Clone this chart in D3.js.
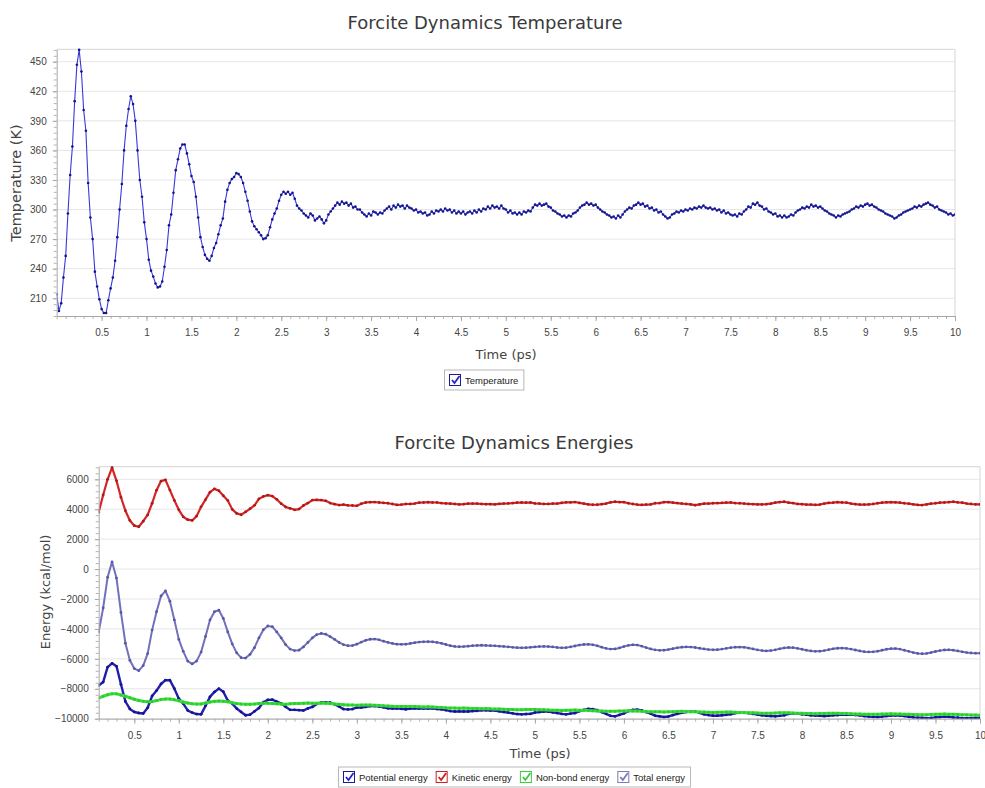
<!DOCTYPE html>
<html lang="en">
<head>
<meta charset="UTF-8">
<title>Forcite Dynamics</title>
<script src="https://cdn.jsdelivr.net/npm/d3@7/dist/d3.min.js"></script>
<style>
    body { margin: 0; background: #fff; }
    svg { display: block; }
</style>
</head>
<body>
<svg id="chart" width="985" height="788"></svg>
<script>
    /* global d3 */

    // time axis ticks (ps)
    var timeTicks = [0.5, 1, 1.5, 2, 2.5, 3, 3.5, 4, 4.5, 5, 5.5, 6, 6.5, 7, 7.5, 8, 8.5, 9, 9.5, 10];
    var tempTicks = [210, 240, 270, 300, 330, 360, 390, 420, 450];
    var energyTicks = [-10000, -8000, -6000, -4000, -2000, 0, 2000, 4000, 6000];

    // temperature (K), sampled every 0.025 ps from 0
    var tempStart = 0, tempStep = 0.025;
    var temperature = [
        214,197,205,231,253,296,335,364,410,447, 462,440,401,380,327,292,270,237,222,209,
        199,195,195,208,220,231,248,272,300,326, 360,385,402,415,407,390,360,330,313,287,
        270,249,238,232,225,221,222,227,242,259, 284,295,317,340,351,362,366,366,357,346,
        334,328,313,292,272,262,254,250,248,253, 261,266,275,284,291,308,320,327,331,333,
        337,336,333,327,318,309,298,288,283,280, 277,274,270,271,274,282,290,296,301,309,
        315,318,316,318,315,317,311,304,301,299, 296,294,292,296,294,289,291,293,290,286,
        289,295,298,301,304,307,305,308,306,307, 304,306,302,303,300,300,297,295,293,296,
        294,298,297,295,297,296,299,301,303,300, 304,302,305,303,304,301,304,302,301,299,
        300,297,298,296,297,294,295,298,296,299, 298,300,298,301,299,300,297,299,296,298,
        296,298,295,297,298,296,299,297,300,298, 301,300,303,301,304,302,303,301,304,301,
        300,297,299,296,297,295,297,295,298,297, 299,298,302,305,304,306,304,305,306,303,
        302,299,298,296,295,293,294,292,294,293, 296,297,299,302,304,305,307,305,306,304,
        305,302,300,298,297,295,294,292,293,291, 294,292,295,298,300,302,301,304,305,307,
        305,306,303,304,301,302,299,300,297,298, 295,293,291,292,295,296,298,297,299,298,
        300,299,301,300,302,301,303,302,304,302, 301,302,300,301,299,300,297,299,296,297,
        295,294,295,293,296,295,298,300,303,302, 306,305,307,304,303,300,301,298,297,295,
        296,293,294,292,294,292,293,295,294,297, 299,300,302,301,303,302,305,303,304,302,
        303,301,299,298,296,295,294,292,294,293, 295,296,297,298,300,301,303,302,304,303,
        305,306,304,305,303,302,300,299,298,296, 295,294,293,291,292,294,295,297,298,299,
        300,301,303,302,304,303,305,306,307,305, 304,302,303,300,299,298,297,295,296,294,
        295
    ];

    // energies (kcal/mol), sampled every 0.05 ps from 0.1
    var energyStart = 0.1, energyStep = 0.05;
    var potentialEnergy = [
        -7780,-7550,-6550,-6300,-6500,-7700,-8850,-9350,-9550,-9620,-9650,-9270,-8480,-8120,-7680,-7420,-7430,-7990,
        -8660,-8990,-9450,-9590,-9690,-9710,-9140,-8540,-8210,-7990,-8200,-8790,-8990,-9320,-9550,-9770,-9730,-9510,-9290,-8900,
        -8740,-8730,-8860,-8970,-9200,-9410,-9410,-9430,-9450,-9310,-9210,-9010,-8910,-8910,-8930,-9040,-9180,-9360,-9380,-9360,
        -9250,-9250,-9210,-9160,-9160,-9180,-9240,-9300,-9320,-9310,-9340,-9370,-9320,-9300,-9320,-9310,-9320,-9310,-9350,-9370,
        -9430,-9490,-9520,-9510,-9520,-9520,-9490,-9480,-9440,-9440,-9460,-9450,-9510,-9550,-9590,-9640,-9690,-9710,-9690,-9680,
        -9590,-9560,-9520,-9530,-9570,-9620,-9680,-9710,-9660,-9620,-9500,-9410,-9350,-9360,-9430,-9560,-9680,-9810,-9840,-9750,
        -9650,-9500,-9410,-9390,-9440,-9560,-9660,-9800,-9840,-9890,-9850,-9760,-9670,-9600,-9550,-9530,-9510,-9610,-9710,-9760,
        -9800,-9800,-9770,-9740,-9700,-9630,-9610,-9610,-9630,-9680,-9720,-9770,-9810,-9820,-9840,-9810,-9770,-9680,-9660,-9650,
        -9700,-9730,-9780,-9790,-9800,-9830,-9810,-9770,-9760,-9730,-9740,-9730,-9750,-9780,-9830,-9860,-9880,-9890,-9860,-9820,
        -9790,-9770,-9790,-9820,-9870,-9910,-9930,-9940,-9960,-9950,-9910,-9890,-9860,-9870,-9920,-9930,-9970,-9960,-9960,-9950,
        -9940
    ];
    var kineticEnergy = [
        3800,4950,6000,6780,5900,4800,3900,3250,2900,2830,3200,3620,4400,5270,5880,5960,5280,4590,
        3960,3490,3300,3250,3540,4160,4640,5140,5360,5240,4900,4590,3990,3720,3630,3820,4030,4260,4690,4850,
        4940,4880,4660,4370,4150,4060,3960,4010,4250,4410,4610,4630,4610,4560,4410,4340,4280,4310,4260,4250,
        4230,4370,4450,4470,4480,4450,4420,4400,4350,4290,4310,4350,4350,4380,4440,4450,4470,4450,4450,4410,
        4390,4370,4350,4320,4340,4370,4370,4380,4350,4340,4340,4320,4360,4380,4390,4410,4440,4450,4440,4450,
        4390,4380,4350,4350,4370,4380,4420,4460,4460,4480,4420,4370,4320,4300,4300,4340,4380,4460,4500,4480,
        4470,4400,4350,4310,4290,4310,4320,4400,4410,4470,4470,4440,4410,4380,4350,4320,4270,4320,4370,4380,
        4400,4410,4420,4440,4450,4410,4400,4380,4350,4340,4320,4320,4340,4370,4440,4480,4500,4440,4410,4350,
        4340,4310,4310,4290,4310,4380,4420,4440,4470,4450,4440,4380,4340,4310,4310,4320,4350,4400,4440,4460,
        4470,4460,4440,4400,4370,4330,4290,4280,4320,4370,4400,4440,4450,4470,4500,4460,4440,4380,4350,4330,
        4320
    ];
    var nonbondEnergy = [
        -8620,-8500,-8400,-8330,-8340,-8420,-8500,-8600,-8700,-8780,-8830,-8860,-8850,-8790,-8720,-8690,-8690,-8740,
        -8800,-8880,-8950,-9000,-9020,-9010,-8950,-8880,-8840,-8820,-8830,-8870,-8930,-8980,-9020,-9040,-9030,-9020,-8990,-8970,
        -8960,-8980,-9000,-9020,-9030,-9000,-8990,-8980,-8960,-8950,-8960,-8970,-8950,-8960,-8980,-9010,-9040,-9060,-9080,-9090,
        -9100,-9090,-9080,-9090,-9100,-9120,-9140,-9150,-9170,-9180,-9190,-9180,-9180,-9190,-9200,-9210,-9200,-9220,-9240,-9250,
        -9270,-9280,-9290,-9300,-9290,-9300,-9310,-9320,-9330,-9320,-9340,-9350,-9360,-9370,-9380,-9390,-9400,-9400,-9390,-9380,
        -9390,-9400,-9410,-9420,-9430,-9440,-9450,-9440,-9430,-9420,-9430,-9440,-9460,-9470,-9480,-9490,-9500,-9510,-9500,-9490,
        -9480,-9470,-9480,-9490,-9510,-9520,-9530,-9540,-9540,-9550,-9540,-9530,-9520,-9510,-9520,-9530,-9540,-9550,-9560,-9570,
        -9580,-9570,-9570,-9560,-9560,-9570,-9580,-9590,-9600,-9610,-9620,-9630,-9640,-9630,-9620,-9610,-9600,-9610,-9620,-9630,
        -9640,-9650,-9660,-9670,-9660,-9650,-9640,-9630,-9640,-9650,-9660,-9670,-9680,-9690,-9700,-9700,-9710,-9700,-9690,-9680,
        -9670,-9680,-9690,-9700,-9710,-9720,-9730,-9740,-9730,-9720,-9710,-9700,-9690,-9700,-9710,-9720,-9730,-9740,-9750,-9760,
        -9770
    ];
    var totalEnergy = [
        -4200,-2600,-550,480,-600,-2900,-4950,-6100,-6650,-6790,-6450,-5650,-4080,-2850,-1800,-1460,-2150,-3400,
        -4700,-5500,-6150,-6340,-6150,-5550,-4500,-3400,-2850,-2750,-3300,-4200,-5000,-5600,-5920,-5950,-5700,-5250,-4600,-4050,
        -3800,-3850,-4200,-4600,-5050,-5350,-5450,-5420,-5200,-4900,-4600,-4380,-4300,-4350,-4520,-4700,-4900,-5050,-5120,-5110,
        -5020,-4880,-4760,-4690,-4680,-4730,-4820,-4900,-4970,-5020,-5030,-5020,-4970,-4920,-4880,-4860,-4850,-4860,-4900,-4960,
        -5040,-5120,-5170,-5190,-5180,-5150,-5120,-5100,-5090,-5100,-5120,-5130,-5150,-5170,-5200,-5230,-5250,-5260,-5250,-5230,
        -5200,-5180,-5170,-5180,-5200,-5240,-5260,-5250,-5200,-5140,-5080,-5040,-5030,-5060,-5130,-5220,-5300,-5350,-5340,-5270,
        -5180,-5100,-5060,-5080,-5150,-5250,-5340,-5400,-5430,-5420,-5380,-5320,-5260,-5220,-5200,-5210,-5240,-5290,-5340,-5380,
        -5400,-5390,-5350,-5300,-5250,-5220,-5210,-5230,-5280,-5340,-5400,-5450,-5470,-5450,-5400,-5330,-5270,-5240,-5250,-5300,
        -5360,-5420,-5470,-5500,-5490,-5450,-5390,-5330,-5290,-5280,-5300,-5350,-5410,-5470,-5520,-5540,-5530,-5490,-5420,-5360,
        -5320,-5310,-5350,-5420,-5500,-5580,-5640,-5660,-5640,-5580,-5510,-5450,-5410,-5400,-5420,-5470,-5530,-5580,-5610,-5620,
        -5620
    ];

    var svg = d3.select("#chart");
    var tickFont = "'Liberation Sans', Arial, sans-serif";
    var titleFont = "'DejaVu Sans', Verdana, sans-serif";

    function drawPanel(p) {
        var x = d3.scaleLinear().domain(p.xDomain).range([p.left, p.right]);
        var y = d3.scaleLinear().domain(p.yDomain).range([p.bottom, p.top]);
        var g = svg.append("g");

        // horizontal grid
        g.append("g").selectAll("line").data(p.yTicks).join("line")
            .attr("x1", p.left).attr("x2", p.right)
            .attr("y1", function (d) { return y(d); })
            .attr("y2", function (d) { return y(d); })
            .attr("stroke", "#e6e6e6");

        // top + right border
        g.append("path")
            .attr("d", "M" + p.left + "," + p.top + "H" + p.right + "V" + p.bottom)
            .attr("fill", "none")
            .attr("stroke", "#d6d6d6");

        // series
        svg.append("clipPath").attr("id", "clip-" + p.id)
            .append("rect")
            .attr("x", p.left).attr("y", p.top - 2)
            .attr("width", p.right - p.left).attr("height", p.bottom - p.top + 2);
        var plot = g.append("g").attr("clip-path", "url(#clip-" + p.id + ")");

        p.series.forEach(function (s) {
            var xi = function (d, i) { return x(s.start + i * s.step); };
            var line = d3.line().x(xi).y(function (d) { return y(d); });
            plot.append("path")
                .datum(s.values)
                .attr("d", line)
                .attr("fill", "none")
                .attr("stroke", s.color)
                .attr("stroke-width", s.width)
                .attr("stroke-linejoin", "round");
            plot.append("g").selectAll("circle").data(s.values).join("circle")
                .attr("cx", xi)
                .attr("cy", function (d) { return y(d); })
                .attr("r", s.dot)
                .attr("fill", s.dotColor);
        });

        // minor ticks
        var xMinor = d3.range(Math.ceil(p.xDomain[0] * 10), 101).map(function (i) { return i / 10; });
        g.append("g").attr("transform", "translate(0," + p.bottom + ")")
            .call(d3.axisBottom(x).tickValues(xMinor).tickSize(3).tickFormat(""))
            .call(function (a) { a.select(".domain").remove(); })
            .selectAll("line").attr("stroke", "#b4b4b4");

        var yMinor = d3.range(Math.ceil(p.yDomain[0] / p.yMinor), Math.floor(p.yDomain[1] / p.yMinor) + 1)
            .map(function (i) { return i * p.yMinor; });
        g.append("g").attr("transform", "translate(" + p.left + ",0)")
            .call(d3.axisLeft(y).tickValues(yMinor).tickSize(3).tickFormat(""))
            .call(function (a) { a.select(".domain").remove(); })
            .selectAll("line").attr("stroke", "#b4b4b4");

        // major axes
        var xAxis = g.append("g").attr("transform", "translate(0," + p.bottom + ")")
            .call(d3.axisBottom(x).tickValues(timeTicks).tickSize(5).tickPadding(8)
                .tickFormat(d3.format("~g")).tickSizeOuter(0));
        var yAxis = g.append("g").attr("transform", "translate(" + p.left + ",0)")
            .call(d3.axisLeft(y).tickValues(p.yTicks).tickSize(4).tickPadding(p.yPad)
                .tickFormat(d3.format("d")).tickSizeOuter(0));

        [xAxis, yAxis].forEach(function (a) {
            a.select(".domain").attr("stroke", "#a8a8a8");
            a.selectAll(".tick line").attr("stroke", "#a8a8a8");
            a.selectAll("text")
                .attr("fill", "#444")
                .style("font-family", tickFont)
                .style("font-size", "10px");
        });

        // titles
        svg.append("text")
            .attr("x", p.titleX).attr("y", p.titleY)
            .attr("text-anchor", "middle")
            .attr("fill", "#3a3a3a")
            .style("font-family", titleFont)
            .style("font-size", "18px")
            .text(p.title);

        svg.append("text")
            .attr("x", p.xLabelX).attr("y", p.xLabelY)
            .attr("text-anchor", "middle")
            .attr("fill", "#444")
            .style("font-family", titleFont)
            .style("font-size", "13px")
            .text("Time (ps)");

        svg.append("text")
            .attr("transform", "translate(" + p.yLabelX + "," + p.yLabelY + ") rotate(-90)")
            .attr("text-anchor", "middle")
            .attr("fill", "#444")
            .style("font-family", titleFont)
            .style("font-size", p.yLabelSize + "px")
            .text(p.yLabel);
    }

    function drawLegend(items, cx, top) {
        var lg = svg.append("g");
        var box = lg.append("rect")
            .attr("y", top).attr("height", 20)
            .attr("fill", "#fff").attr("stroke", "#b8b8b8");
        var pos = 5;
        items.forEach(function (it, k) {
            var ig = lg.append("g");
            ig.append("rect")
                .attr("x", pos + 0.5).attr("y", top + 4.5)
                .attr("width", 11).attr("height", 11)
                .attr("fill", "#fff").attr("stroke", it.box);
            ig.append("path")
                .attr("d", "M" + (pos + 3) + "," + (top + 10) + "l2.5,3l5,-7")
                .attr("fill", "none")
                .attr("stroke", it.check)
                .attr("stroke-width", 1.8);
            var t = ig.append("text")
                .attr("x", pos + 16).attr("y", top + 13.5)
                .attr("fill", "#222")
                .style("font-family", tickFont)
                .style("font-size", "9.5px")
                .text(it.name);
            pos += 16 + t.node().getComputedTextLength() + (k < items.length - 1 ? 8 : 5);
        });
        var left = Math.round(cx - pos / 2);
        box.attr("x", 0.5).attr("width", pos);
        lg.attr("transform", "translate(" + left + ",0)");
    }

    drawPanel({
        id: "temp",
        left: 56.7, right: 955, top: 49.3, bottom: 316,
        xDomain: [0, 10], yDomain: [192, 462.6],
        yTicks: tempTicks, yMinor: 6, yPad: 6,
        title: "Forcite Dynamics Temperature", titleX: 485, titleY: 29,
        xLabelX: 506, xLabelY: 359,
        yLabel: "Temperature (K)", yLabelX: 21, yLabelY: 183, yLabelSize: 14.5,
        series: [
            {values: temperature, start: tempStart, step: tempStep,
             color: "#3838d8", width: 1.1, dot: 1.3, dotColor: "#14148c"}
        ]
    });

    drawPanel({
        id: "energy",
        left: 98.7, right: 980, top: 466.7, bottom: 718.7,
        xDomain: [0.1, 10], yDomain: [-10000, 6842],
        yTicks: energyTicks, yMinor: 400, yPad: 6,
        title: "Forcite Dynamics Energies", titleX: 514, titleY: 449,
        xLabelX: 540, xLabelY: 758,
        yLabel: "Energy (kcal/mol)", yLabelX: 50, yLabelY: 592, yLabelSize: 13,
        series: [
            {values: potentialEnergy, start: energyStart, step: energyStep,
             color: "#2020b0", width: 2.4, dot: 1.4, dotColor: "#14148e"},
            {values: kineticEnergy, start: energyStart, step: energyStep,
             color: "#d42424", width: 2.2, dot: 1.4, dotColor: "#b01818"},
            {values: nonbondEnergy, start: energyStart, step: energyStep,
             color: "#3ce03c", width: 3, dot: 1.5, dotColor: "#2ccc2c"},
            {values: totalEnergy, start: energyStart, step: energyStep,
             color: "#7070bc", width: 2, dot: 1.4, dotColor: "#5858a2"}
        ]
    });

    drawLegend([
        {name: "Temperature", box: "#1c1c8c", check: "#2424c8"}
    ], 483.5, 370);

    drawLegend([
        {name: "Potential energy", box: "#1c1c8c", check: "#2424c8"},
        {name: "Kinetic energy", box: "#c82424", check: "#c82424"},
        {name: "Non-bond energy", box: "#40c840", check: "#40c840"},
        {name: "Total energy", box: "#7a7ab4", check: "#7a7ab4"}
    ], 514, 767);
</script>
</body>
</html>
